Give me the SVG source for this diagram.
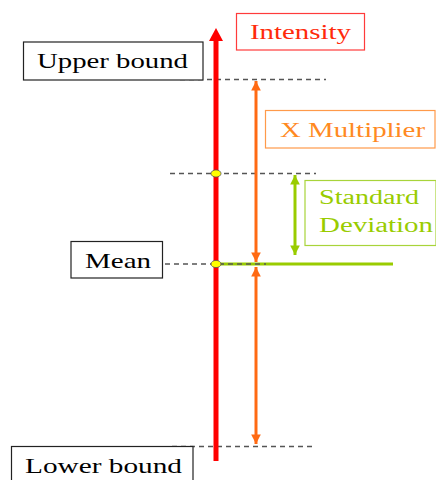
<svg xmlns="http://www.w3.org/2000/svg" width="436" height="480" viewBox="0 0 436 480">
<style>
.lbl{font-family:"Liberation Serif","Times New Roman",serif;font-size:22px}
.dash{stroke:#555;stroke-width:1.3;stroke-dasharray:5 4;fill:none}
.box{fill:#fff;stroke-width:1.2}
</style>
<defs>
<marker id="ho" viewBox="0 0 10 10" refX="10" refY="5" markerWidth="4" markerHeight="3.2" orient="auto-start-reverse" markerUnits="strokeWidth"><path d="M0,0L10,5L0,10z" fill="#ff6a13"/></marker>
<marker id="hg" viewBox="0 0 10 10" refX="10" refY="5" markerWidth="4" markerHeight="3.2" orient="auto-start-reverse" markerUnits="strokeWidth"><path d="M0,0L10,5L0,10z" fill="#99cc00"/></marker>
</defs>
<rect width="436" height="480" fill="#fff"/>
<g id="connectors">
<line class="dash" x1="180" y1="79.5" x2="326" y2="79.5"/>
<line class="dash" x1="170" y1="173.5" x2="316" y2="173.5"/>
<line class="dash" x1="172" y1="446.5" x2="316" y2="446.5"/>
<line x1="216" y1="264" x2="393" y2="264" stroke="#99cc00" stroke-width="3"/>
<line class="dash" x1="165" y1="264" x2="266" y2="264"/>
<line x1="216" y1="461" x2="216" y2="40" stroke="#ff0000" stroke-width="5"/>
<path d="M216,28L223,41L209,41z" fill="#ff0000"/>
<line x1="256" y1="81" x2="256" y2="262" stroke="#ff6a13" stroke-width="3" marker-start="url(#ho)" marker-end="url(#ho)"/>
<line x1="256" y1="267" x2="256" y2="444" stroke="#ff6a13" stroke-width="3" marker-start="url(#ho)" marker-end="url(#ho)"/>
<line x1="295" y1="175" x2="295" y2="255" stroke="#99cc00" stroke-width="3" marker-start="url(#hg)" marker-end="url(#hg)"/>
<ellipse cx="216" cy="173.5" rx="5" ry="3.6" fill="#ffff00" stroke="#555" stroke-width="0.8"/>
<ellipse cx="216" cy="264" rx="5" ry="3.6" fill="#ffff00" stroke="#555" stroke-width="0.8"/>
</g>
<g id="intensity">
<rect class="box" x="236.5" y="13.5" width="128" height="36.5" stroke="#ff3b3b"/>
<text class="lbl" x="250" y="39" textLength="101" lengthAdjust="spacingAndGlyphs" fill="#ff2a0a">Intensity</text>
</g>
<g id="upper-bound">
<rect class="box" x="23.5" y="42" width="179.5" height="38" stroke="#222"/>
<text class="lbl" x="37" y="68" textLength="151" lengthAdjust="spacingAndGlyphs" fill="#000">Upper bound</text>
</g>
<g id="x-multiplier">
<rect class="box" x="265.5" y="110.5" width="169.5" height="37.5" stroke="#ff9a4a"/>
<text class="lbl" x="280" y="137" textLength="145" lengthAdjust="spacingAndGlyphs" fill="#ff8a1f">X Multiplier</text>
</g>
<g id="std-dev">
<rect class="box" x="305" y="180.5" width="131" height="65" stroke="#a8d43a"/>
<text class="lbl" x="319" y="204" textLength="100" lengthAdjust="spacingAndGlyphs" fill="#99cc00" style="font-size:20px">Standard</text>
<text class="lbl" x="319" y="232" textLength="114" lengthAdjust="spacingAndGlyphs" fill="#99cc00" style="font-size:20px">Deviation</text>
</g>
<g id="mean">
<rect class="box" x="71" y="241.5" width="91.5" height="36.5" stroke="#222"/>
<text class="lbl" x="85" y="267.5" textLength="66" lengthAdjust="spacingAndGlyphs" fill="#000">Mean</text>
</g>
<g id="lower-bound">
<rect class="box" x="11.5" y="446.5" width="181.5" height="40" stroke="#222"/>
<text class="lbl" x="25" y="473" textLength="157" lengthAdjust="spacingAndGlyphs" fill="#000">Lower bound</text>
</g>
</svg>
